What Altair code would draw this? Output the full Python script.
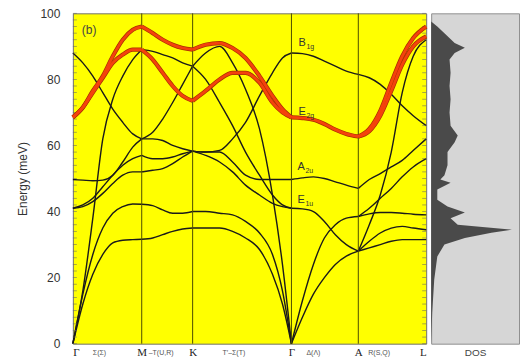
import altair as alt
import pandas as pd

# ---------------- data ----------------
sym_names = ["Γ", "M", "K", "Γ", "A", "L"]
sym_q = [0, 69, 120, 219, 286, 354]
inner_sym_q = [69, 120, 219, 286]

dir_names = ["Σ(Σ)", "–T(U,R)", "T′–Σ(T)", "Δ(Λ)", "R(S,Q)"]
dir_q = [20, 76, 150, 234, 296]

y_major = [0, 20, 40, 60, 80, 100]
y_minor = list(range(0, 101, 2))

# Γ–M
GM_q = [0, 10, 20, 30, 40, 50, 60, 69]
GM_black = {
    "TA1": [0, 12, 21, 27, 30.5, 31.3, 31.5, 31.6],
    "TA2": [0, 15, 27, 35, 39.5, 41.5, 42.3, 42.2],
    "LA": [0, 16, 38, 62, 74, 81, 86, 89],
    "O1": [41, 42, 44, 47.5, 51, 54, 56, 57],
    "O2": [41, 41.5, 43, 45.5, 48.5, 51, 52, 52],
    "O3": [49.7, 49.5, 49.3, 49.5, 51, 55, 59.5, 62],
    "O4": [88, 85, 81, 76, 71, 67, 63.5, 62],
}
GM_red = {
    "E2g_lo": [68.5, 71.5, 76, 80.5, 85, 87.5, 89, 89],
    "E2g_hi": [68.5, 71.5, 76.5, 81, 87, 92, 95, 96],
}
# M–K
MK_q = [69, 80, 90, 100, 110, 120]
MK_black = {
    "TA1": [31.6, 32, 33, 34, 34.7, 35],
    "TA2": [42.2, 41.8, 40.5, 39.5, 39.5, 40],
    "LA": [89, 88.5, 87.5, 86.5, 85, 84],
    "O1": [57, 56, 56, 56.5, 57.5, 58.3],
    "O2": [52, 52.5, 53, 54.5, 56.5, 58.3],
    "O3": [62, 64, 68, 73, 78.5, 84],
    "O4": [62, 62, 61.5, 60, 59, 58.3],
}
MK_red = {
    "E2g_lo": [89, 86, 82, 78, 75, 73.5],
    "E2g_hi": [96, 94, 92, 90.5, 89.5, 89],
}
# K–Γ
KG_q = [120, 133, 147, 160, 173, 187, 200, 210, 219]
KG_black = {
    "TA1": [35, 35, 35, 34, 32, 28.5, 21, 12, 0],
    "TA2": [40, 40, 39.5, 39, 37, 33.5, 27, 16, 0],
    "LA": [84, 88, 90, 85, 77, 65, 45, 24, 0],
    "O1": [58.3, 57, 55, 52, 48, 45, 42.5, 41.5, 41],
    "O2": [84, 80, 73, 66, 58, 51, 45, 42, 41],
    "O3": [58.3, 58, 58, 55, 51, 49.7, 49.7, 49.7, 49.7],
    "O4": [58.3, 58, 58.5, 62, 67, 75, 82, 86.5, 88],
}
KG_red = {
    "E2g_lo": [73.5, 76.5, 80, 82, 82, 79, 73, 70, 68.5],
    "E2g_hi": [89, 90.5, 91, 89.5, 86.5, 81, 75, 71, 68.5],
}
# Γ–A
GA_q = [219, 230, 241, 252, 263, 274, 286]
GA_black = {
    "TA": [0, 8, 15, 20, 24, 26.5, 28],
    "LA": [0, 13, 24, 32, 36, 38, 38.5],
    "E1u": [41, 40.8, 40, 37, 33, 30, 28],
    "A2u": [49.7, 50.2, 50.5, 50, 49, 48, 47],
    "B1g": [88, 87.8, 87, 85.5, 84, 82.5, 81.5],
}
GA_red = {
    "E2g": [68.5, 68.3, 67.8, 66.5, 64.8, 63.5, 62.7],
}
# A–L
AL_q = [286, 297, 308, 319, 330, 341, 354]
AL_black = {
    "s1": [28, 29, 30, 31, 31.5, 31.5, 31.5],
    "s2": [28, 31, 33.5, 35, 35.5, 35, 34.5],
    "s3": [38.5, 39.3, 39.7, 39.7, 39.5, 39.2, 39],
    "s4": [38.5, 41, 44, 47, 50.5, 53.5, 56],
    "s5": [47, 49.7, 51.5, 53.5, 55.5, 58.5, 62],
    "s6": [28, 36, 45, 58, 76, 87, 92],
    "B1g": [81.5, 80.5, 78.5, 75.5, 72, 69, 66],
}
AL_red = {
    "E2g_hi": [62.7, 65, 70.5, 79, 87, 92.5, 96],
    "E2g_lo": [62.7, 64.3, 69, 76.5, 84.5, 90, 93],
}

# phonon density of states (arbitrary units)
dos_E = [0, 9.4, 19.4, 26.4, 30, 32, 33.6, 34.5, 36, 38, 39.7, 41.5, 43.6, 46.7,
         48.7, 49.7, 51, 54, 58, 61, 63, 66, 70, 74, 78, 82, 86, 88, 89.6, 91,
         94, 96, 97.5, 100]
dos_v = [0, 0.1, 0.3, 0.6, 1.3, 3.3, 5.9, 7.9, 2.6, 1.9, 3.3, 1.6, 0.6, 0.6,
         1.9, 0.9, 1.3, 1.6, 1.6, 2.3, 2.6, 1.9, 1.8, 1.9, 1.8, 1.9, 1.8, 2.3,
         3.3, 2.3, 1.3, 0.6, 0, 0]

# mode labels at the zone centre
mode_main = ["B", "E", "A", "E"]
mode_sub = ["1g", "2g", "2u", "1u"]
mode_E = [91, 70, 53.6, 43.6]
mode_q = [226, 226, 225, 225]

# ---------------- build tables ----------------
rows = []
segments = [
    ("GM", GM_q, GM_black, GM_red),
    ("MK", MK_q, MK_black, MK_red),
    ("KG", KG_q, KG_black, KG_red),
    ("GA", GA_q, GA_black, GA_red),
    ("AL", AL_q, AL_black, AL_red),
]
for seg, qs, blk, red in segments:
    for kind, group in (("black", blk), ("red", red)):
        for name, es in group.items():
            for q, e in zip(qs, es):
                rows.append({"q": q, "E": e, "line": f"{seg}_{name}", "kind": kind})
bands = pd.DataFrame(rows)

dos = pd.DataFrame({"E": dos_E, "dos": dos_v})
sym_df = pd.DataFrame({"q": inner_sym_q})
dir_df = pd.DataFrame({"q": dir_q, "t": dir_names})
mode_df = pd.DataFrame({"q": mode_q, "E": mode_E, "m": mode_main, "s": mode_sub})
tag_df = pd.DataFrame({"q": [9], "E": [95], "t": ["(b)"]})
minor_df = pd.DataFrame({"E": y_minor})

W, H = 354, 331
FONT = "Liberation Sans"

label_expr = " : ".join(
    f"datum.value == {q} ? '{n}'" for q, n in zip(sym_q, sym_names)
) + " : ''"

xscale = alt.Scale(domain=[0, 354], nice=False, zero=False)
yscale = alt.Scale(domain=[0, 100], nice=False)

x_enc = alt.X("q:Q", scale=xscale,
              axis=alt.Axis(values=sym_q, labelExpr=label_expr, title=None,
                            ticks=False, domain=False, grid=False,
                            labelFontSize=11, labelColor="#222", labelPadding=3,
                            labelFont="Liberation Serif", labelOverlap=False))
y_enc = alt.Y("E:Q", scale=yscale,
              axis=alt.Axis(values=y_major, ticks=False, domain=False, grid=False,
                            labelFontSize=12, labelColor="#333", labelPadding=13,
                            title="Energy (meV)", titleFontSize=12,
                            titleFontWeight="normal", titleColor="#333",
                            titlePadding=10))

rules = alt.Chart(sym_df).mark_rule(color="#4d4d00", strokeWidth=1).encode(
    x=alt.X("q:Q", scale=xscale)
)

minor_l = alt.Chart(minor_df).mark_tick(
    orient="horizontal", size=4, thickness=0.8, color="#666"
).encode(y=alt.Y("E:Q", scale=yscale), x=alt.value(2))
minor_r = alt.Chart(minor_df).mark_tick(
    orient="horizontal", size=4, thickness=0.8, color="#666"
).encode(y=alt.Y("E:Q", scale=yscale), x=alt.value(W - 2))

black = alt.Chart(bands).transform_filter("datum.kind == 'black'").mark_line(
    color="#1a1a1a", strokeWidth=1.4, interpolate="monotone"
).encode(x=x_enc, y=y_enc, detail="line:N", order="q:Q")

red_edge = alt.Chart(bands).transform_filter("datum.kind == 'red'").mark_line(
    color="#a83000", strokeWidth=4.2, interpolate="monotone"
).encode(x="q:Q", y="E:Q", detail="line:N", order="q:Q")
red = alt.Chart(bands).transform_filter("datum.kind == 'red'").mark_line(
    color="#f4420c", strokeWidth=2.8, interpolate="monotone"
).encode(x="q:Q", y="E:Q", detail="line:N", order="q:Q")

tag = alt.Chart(tag_df).mark_text(align="left", fontSize=12, font=FONT,
                                  color="#444").encode(x="q:Q", y="E:Q", text="t:N")
mode_m = alt.Chart(mode_df).mark_text(align="left", fontSize=11, font=FONT,
                                      color="#333").encode(x="q:Q", y="E:Q", text="m:N")
mode_s = alt.Chart(mode_df).mark_text(align="left", fontSize=7, font=FONT,
                                      color="#333", dx=8, dy=4).encode(x="q:Q", y="E:Q", text="s:N")
dirs = alt.Chart(dir_df).mark_text(align="left", fontSize=7, font=FONT,
                                   color="#555").encode(
    x="q:Q", y=alt.value(H + 9), text="t:N")

main = alt.layer(black, rules, minor_l, minor_r, red_edge, red, tag, mode_m,
                 mode_s, dirs).properties(
    width=W, height=H,
    view=alt.ViewBackground(fill="#ffff00", stroke="#707070", strokeWidth=1),
)

dos_chart = alt.Chart(dos).mark_area(
    orient="horizontal", color="#4a4a4a", interpolate="linear"
).encode(
    x=alt.X("dos:Q", scale=alt.Scale(domain=[0, 8.6], nice=False), stack=None,
            axis=alt.Axis(title="DOS", labels=False, ticks=False, domain=False,
                          grid=False, titleFontSize=10, titleFontWeight="normal",
                          titleColor="#444", titlePadding=4)),
    y=alt.Y("E:Q", scale=yscale, axis=None),
).properties(
    width=88, height=H,
    view=alt.ViewBackground(fill="#d6d6d6", stroke="#909090", strokeWidth=1),
)

chart = alt.hconcat(main, dos_chart, spacing=5, bounds="flush").properties(
    background="white",
    padding={"left": 16, "top": 6, "right": 0, "bottom": 0},
).configure(font=FONT)

chart.save("out.html", embed_options={"renderer": "svg", "actions": False})
